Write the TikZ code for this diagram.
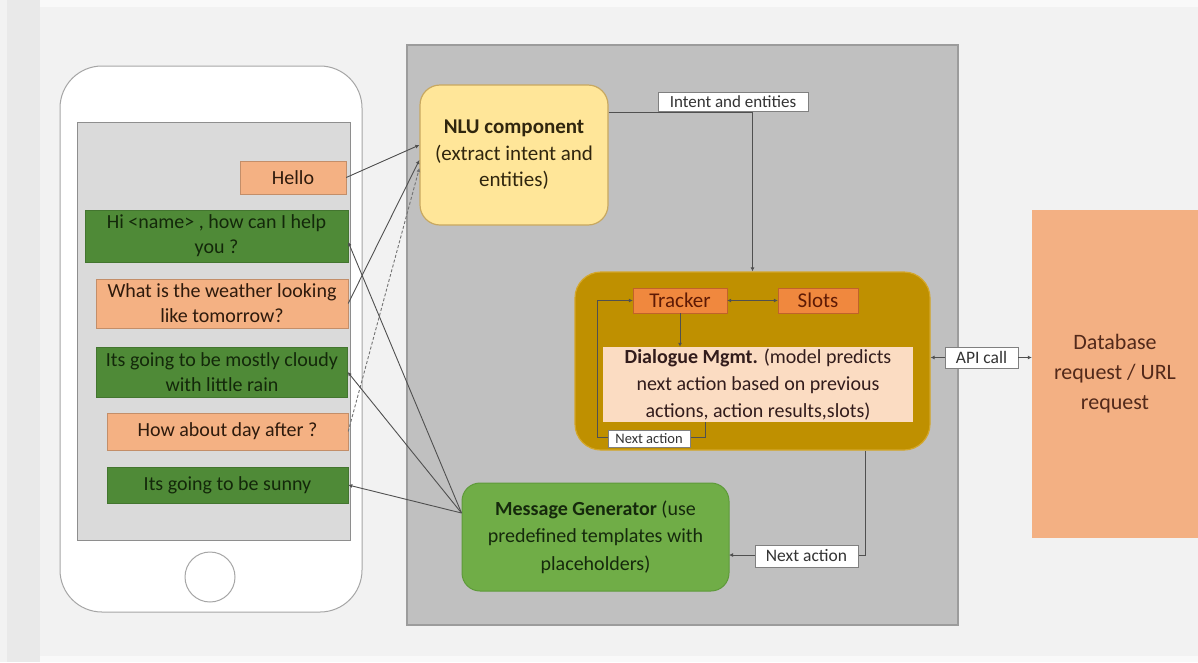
\documentclass[tikz,border=0pt]{standalone}
\usepackage{fontspec}
\setmainfont{Carlito}
\usetikzlibrary{arrows.meta}

\definecolor{pagebg}{HTML}{F2F2F2}
\definecolor{bandbg}{HTML}{E9E9E9}
\definecolor{panelbg}{HTML}{C0C0C0}
\definecolor{panelline}{HTML}{9C9C9C}
\definecolor{phoneline}{HTML}{A6A6A6}
\definecolor{screenbg}{HTML}{DADADA}
\definecolor{screenline}{HTML}{8E8E8E}
\definecolor{peach}{HTML}{F4B183}
\definecolor{peachtext}{HTML}{2E1A0C}
\definecolor{darkgreen}{HTML}{4F8A37}
\definecolor{greentext}{HTML}{13280A}
\definecolor{nlufill}{HTML}{FFE699}
\definecolor{nluline}{HTML}{C8A860}
\definecolor{nlutext}{HTML}{30260E}
\definecolor{dmfill}{HTML}{BF9000}
\definecolor{dmline}{HTML}{D4A72A}
\definecolor{trackfill}{HTML}{F0883E}
\definecolor{trackline}{HTML}{C0622A}
\definecolor{tracktext}{HTML}{5E1A05}
\definecolor{dminner}{HTML}{FBDCC2}
\definecolor{dmtext}{HTML}{321C1C}
\definecolor{mgfill}{HTML}{70AD47}
\definecolor{mgline}{HTML}{5E9A3A}
\definecolor{mgtext}{HTML}{15290C}
\definecolor{dbfill}{HTML}{F3B083}
\definecolor{dbtext}{HTML}{52291A}
\definecolor{wire}{HTML}{505050}

\tikzset{
  tip/.tip={Latex[length=4pt,width=4pt]},
  box/.style={inner sep=0pt, align=center},
  bubble/.style={box, font=\fontsize{20}{25}\selectfont},
  peachbubble/.style={bubble, fill=peach, draw=peach!80!black, text=peachtext},
  greenbubble/.style={bubble, fill=darkgreen, draw=darkgreen!85!black, text=greentext},
  tag/.style={box, fill=white, draw=gray, text=black!80},
  conn/.style={draw=wire, line width=0.9pt},
  dashconn/.style={draw=wire!80, line width=0.9pt, dashed, dash pattern=on 3pt off 2pt},
}

\begin{document}
\begin{tikzpicture}[x=1pt,y=-1pt]
\useasboundingbox (0,0) rectangle (1198,662);

% page background
\fill[pagebg] (0,0) rectangle (1198,662);
\fill[bandbg] (7,0) rectangle (40,662);
\fill[white!50!pagebg] (40,0) rectangle (1198,7);
\fill[white!50!pagebg] (40,656) rectangle (1198,662);

% grey system panel
\node[box, fill=panelbg, draw=panelline, line width=1.2pt,
      minimum width=551pt, minimum height=580pt] (panel) at (682.5,335) {};

% phone body, screen and home button
\node[box, fill=white, draw=phoneline, line width=1pt, rounded corners=42pt,
      minimum width=302pt, minimum height=546pt] (phone) at (211,339) {};
\node[box, fill=screenbg, draw=screenline, line width=1pt,
      minimum width=273pt, minimum height=418pt] (screen) at (213.5,331) {};
\node[circle, draw=phoneline, line width=1pt, minimum size=50pt, inner sep=0pt] (home) at (210,577) {};

% chat bubbles
\node[peachbubble, minimum width=106pt, minimum height=33pt] (hello) at (293,177.5) {Hello};
\node[greenbubble, minimum width=263pt, minimum height=52pt] (hi) at (216.5,236) {Hi <name> , how can I help\\you ?};
\node[peachbubble, minimum width=252pt, minimum height=49pt] (weather) at (222,303.5) {What is the weather looking\\like tomorrow?};
\node[greenbubble, minimum width=251pt, minimum height=50pt] (cloudy) at (222,372) {Its going to be mostly cloudy\\with little rain};
\node[peachbubble, minimum width=241pt, minimum height=37pt] (dayafter) at (227.5,431.5) {How about day after ?};
\node[greenbubble, minimum width=241pt, minimum height=36pt] (sunny) at (227.5,485) {Its going to be sunny};

% NLU component
\node[box, fill=nlufill, draw=nluline, line width=1.2pt, rounded corners=20pt,
      minimum width=188pt, minimum height=140pt, text=nlutext,
      font=\fontsize{21}{26.5}\selectfont] (nlu) at (514,155)
      {\textbf{NLU component}\\(extract intent and\\entities)};

% dialogue management block
\node[box, fill=dmfill, draw=dmline, line width=1.2pt, rounded corners=26pt,
      minimum width=355pt, minimum height=178pt] (dm) at (752.5,361) {};
\node[box, fill=trackfill, draw=trackline, minimum width=94pt, minimum height=25pt,
      text=tracktext, font=\fontsize{21}{24}\selectfont] (tracker) at (680,300.5) {Tracker};
\node[box, fill=trackfill, draw=trackline, minimum width=80pt, minimum height=25pt,
      text=tracktext, font=\fontsize{21}{24}\selectfont] (slots) at (818,300.5) {Slots};
\node[box, fill=dminner, minimum width=310pt, minimum height=75pt, text=dmtext,
      font=\fontsize{20}{27}\selectfont] (dmin) at (758,384.5)
      {\textbf{Dialogue Mgmt.} (model predicts\\next action based on previous\\actions, action results,slots)};

% message generator
\node[box, fill=mgfill, draw=mgline, line width=1pt, rounded corners=18pt,
      minimum width=267pt, minimum height=108pt, text=mgtext,
      font=\fontsize{20}{27.5}\selectfont] (mg) at (595.5,537)
      {\textbf{Message Generator} (use\\predefined templates with\\placeholders)};

% external data source
\node[box, fill=dbfill, minimum width=166pt, minimum height=328pt, text=dbtext,
      font=\fontsize{22}{30}\selectfont] (db) at (1115,374)
      {Database\\request / URL\\request};

% user messages into the NLU component
\draw[conn, -tip] (hello.east) -- ([yshift=10pt]nlu.west);
\draw[conn, -tip] (weather.east) -- ([yshift=-5pt]nlu.west);
\draw[dashconn, -tip] (dayafter.east) -- ([yshift=-13pt]nlu.west);

% generated replies back to the screen
\draw[conn, -tip] ([yshift=24pt]mg.west) -- ([yshift=-6pt]hi.east);
\draw[conn, -tip] ([yshift=24pt]mg.west) -- (cloudy.east);
\draw[conn, -tip] ([yshift=24pt]mg.west) -- (sunny.east);

% intent and entities to dialogue management
\draw[conn, -tip] ([yshift=43pt]nlu.east) -| (dm.north);
\node[tag, minimum width=150pt, minimum height=19pt, font=\fontsize{17}{18}\selectfont] (intent) at (733,102) {Intent and entities};

% tracker, slots and the internal loop
\draw[conn, tip-tip] (tracker.east) -- (slots.west);
\draw[conn, -tip] (tracker.south) -- (tracker.south |- dmin.north);
\coordinate (loopR) at (705,437);
\coordinate (loopL) at (597,437);
\draw[conn, -tip] (dmin.south -| loopR) -- (loopR) -- (loopL) |- (tracker.west);
\node[tag, minimum width=82pt, minimum height=17pt, font=\fontsize{14.5}{16}\selectfont] (inner) at (649,438.5) {Next action};

% API call to the external source
\node[tag, minimum width=73pt, minimum height=21pt, font=\fontsize{17.5}{18}\selectfont] (api) at (981.5,357.5) {API call};
\draw[conn, -tip] (api.west) -- (dm.east |- api);
\draw[conn, -tip] (api.east) -- (db.west |- api);

% next action to the message generator
\coordinate (naTop) at (865,0);
\coordinate (naEnd) at (729,555);
\draw[conn, -tip] (dm.south -| naTop) |- (naEnd);
\node[tag, minimum width=103pt, minimum height=22pt, font=\fontsize{17.5}{18}\selectfont] (outer) at (806.5,556) {Next action};

\end{tikzpicture}
\end{document}
